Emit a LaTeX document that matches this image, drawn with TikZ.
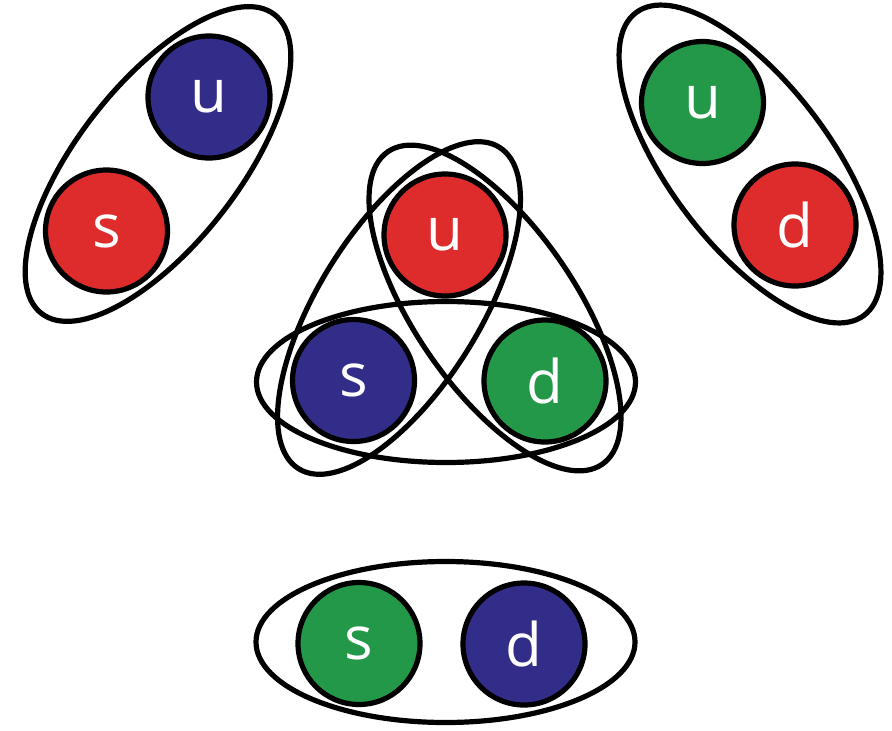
\documentclass[tikz,border=0pt]{standalone}
\usepackage{fontspec}
\setmainfont{Open Sans}
\usetikzlibrary{shapes.geometric}
\definecolor{qred}{RGB}{222,43,43}
\definecolor{qblue}{RGB}{50,45,137}
\definecolor{qgreen}{RGB}{35,152,73}
\begin{document}
\begin{tikzpicture}[x=1pt,y=-1pt,
  quark/.style={circle, draw=black, line width=5.2pt, minimum size=122pt,
    inner sep=0pt, text=white, font=\fontsize{60}{60}\selectfont},
  bag/.style={ellipse, draw=black, line width=5.2pt, minimum width=379pt,
    minimum height=161pt, inner sep=0pt}]
\useasboundingbox (0,0) rectangle (892,731);

% meson: u s-bar (upper left)
\node[bag, rotate=52] (bagA) at (158,164) {};
\node[quark, fill=qblue] (uA) at (209,97) {u};
\node[quark, fill=qred] (sA) at (106.5,231) {s};

% meson: u d-bar (upper right)
\node[bag, rotate=-53] (bagB) at (750,164) {};
\node[quark, fill=qgreen] (uB) at (702.5,102.5) {u};
\node[quark, fill=qred] (dB) at (795,225) {d};

% baryon: u s d with the three pairings
\node[bag, rotate=58] (bagUS) at (399,308) {};
\node[bag, rotate=-55.6] (bagUD) at (495,308) {};
\node[bag] (bagSD) at (446,382) {};
\node[quark, fill=qred] (uC) at (445,235) {u};
\node[quark, fill=qblue] (sC) at (353.5,380.5) {s};
\node[quark, fill=qgreen] (dC) at (545,381) {d};

% meson: s d-bar (bottom)
\node[bag] (bagD) at (445.5,642) {};
\node[quark, fill=qgreen] (sD) at (359,643.5) {s};
\node[quark, fill=qblue] (dD) at (524,644) {d};
\end{tikzpicture}
\end{document}
